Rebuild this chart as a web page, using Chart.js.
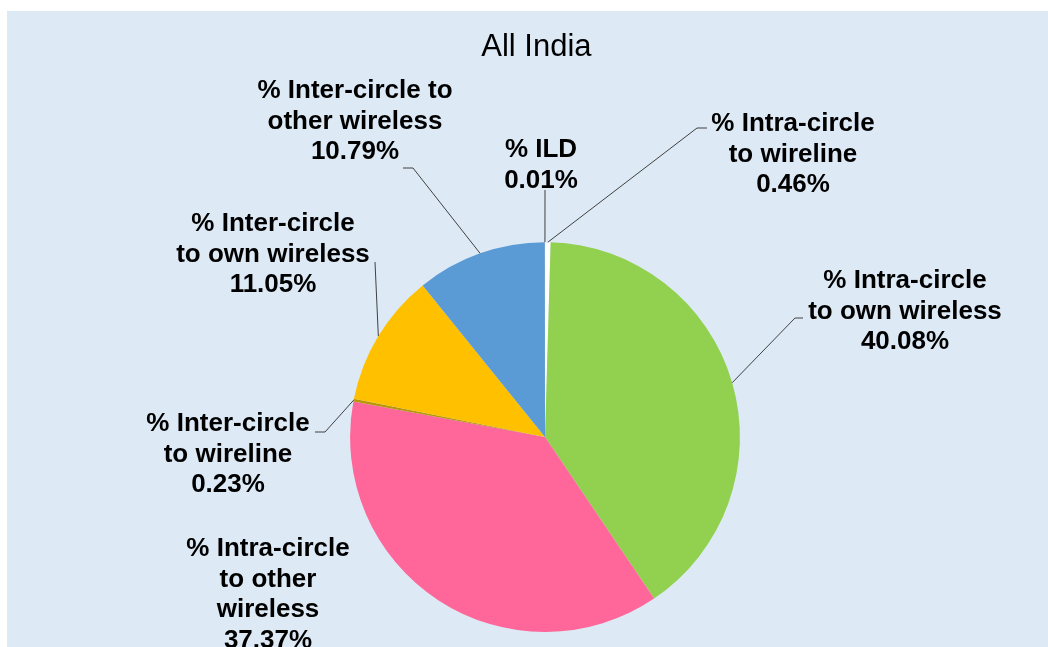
<!DOCTYPE html>
<html>
<head>
<meta charset="utf-8">
<script src="https://cdn.jsdelivr.net/npm/chart.js@4"></script>
<style>
  html, body { margin: 0; padding: 0; background: #ffffff; }
  #wrap { position: absolute; left: 7px; top: 11px; width: 1041px; height: 636px; }
  #myChart { background: #dde9f5; }
</style>
</head>
<body>
<div id="wrap"><canvas id="myChart" width="1041" height="636"></canvas></div>
<script>
var categories = [
    '% Intra-circle to wireline',
    '% Intra-circle to own wireless',
    '% Intra-circle to other wireless',
    '% Inter-circle to wireline',
    '% Inter-circle to own wireless',
    '% Inter-circle to other wireless',
    '% ILD'
];
var shares = [0.46, 40.08, 37.37, 0.23, 11.05, 10.79, 0.01];
// label text as it wraps on the chart (value line added below)
var labelLines = [
    ['% Intra-circle', 'to wireline'],
    ['% Intra-circle', 'to own wireless'],
    ['% Intra-circle', 'to other', 'wireless'],
    ['% Inter-circle', 'to wireline'],
    ['% Inter-circle', 'to own wireless'],
    ['% Inter-circle to', 'other wireless'],
    ['% ILD']
];
var sliceColors = ['#ffffff', '#92d050', '#ff6699', '#b8960a', '#ffc000', '#5b9bd5', '#a5a5a5'];

// where each label sits (centre x, first baseline) and its leader elbow
var labelSpots = [
    { x: 786, y: 120, bend: [690, 117], tail: [700, 117] },
    { x: 898, y: 277, bend: [788, 307], tail: [796, 307] },
    { x: 261, y: 545, bend: null, tail: null },
    { x: 221, y: 420, bend: [318, 421], tail: [308, 421] },
    { x: 266, y: 220, bend: [368, 251], tail: [368, 251] },
    { x: 348, y: 87,  bend: [406, 157], tail: [396, 157] },
    { x: 534, y: 146, bend: [538, 179], tail: [538, 179] }
];

var pieLabels = {
    id: 'pieLabels',
    afterDatasetsDraw: function (chart) {
        var ctx = chart.ctx;
        var arcs = chart.getDatasetMeta(0).data;
        ctx.save();
        // leader lines from the middle of each slice's rim
        ctx.strokeStyle = '#404040';
        ctx.lineWidth = 1;
        arcs.forEach(function (arc, i) {
            var spot = labelSpots[i];
            if (!spot.bend) return;
            var p = arc.getProps(['x', 'y', 'startAngle', 'endAngle', 'outerRadius'], true);
            var mid = (p.startAngle + p.endAngle) / 2;
            var ex = p.x + Math.cos(mid) * p.outerRadius;
            var ey = p.y + Math.sin(mid) * p.outerRadius;
            ctx.beginPath();
            ctx.moveTo(spot.tail[0], spot.tail[1]);
            ctx.lineTo(spot.bend[0], spot.bend[1]);
            ctx.lineTo(ex, ey);
            ctx.stroke();
        });
        // label text
        ctx.fillStyle = '#000000';
        ctx.font = 'bold 26px "Liberation Sans", Arial, sans-serif';
        ctx.textAlign = 'center';
        ctx.textBaseline = 'alphabetic';
        labelLines.forEach(function (lines, i) {
            var spot = labelSpots[i];
            var all = lines.concat([shares[i].toFixed(2) + '%']);
            all.forEach(function (t, k) {
                ctx.fillText(t, spot.x, spot.y + k * 30.5);
            });
        });
        ctx.restore();
    }
};

var ctx = document.getElementById('myChart').getContext('2d');
var myChart = new Chart(ctx, {
    type: 'pie',
    data: {
        labels: categories,
        datasets: [{
            data: shares,
            backgroundColor: sliceColors,
            borderWidth: 0
        }]
    },
    options: {
        responsive: false,
        animation: false,
        layout: {
            padding: { top: 0, bottom: 15, left: 35, right: 0 }
        },
        plugins: {
            legend: { display: false },
            tooltip: { enabled: false },
            title: {
                display: true,
                // trailing spaces nudge the title a little left of the pie centre
                text: 'All India  ',
                color: '#000000',
                font: { family: '"Liberation Sans", Arial, sans-serif', size: 31, weight: 'normal' },
                padding: { top: 18, bottom: 176 }
            }
        }
    },
    plugins: [pieLabels]
});
</script>
</body>
</html>
